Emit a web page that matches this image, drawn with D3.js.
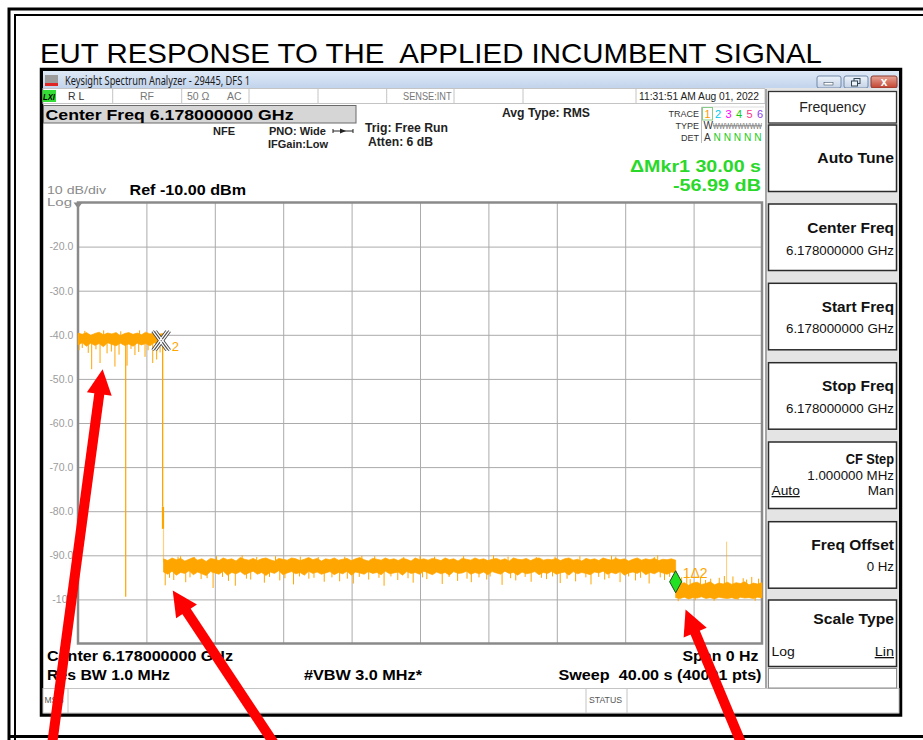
<!DOCTYPE html>
<html>
<head>
<meta charset="utf-8">
<script src="https://cdn.jsdelivr.net/npm/d3@7"></script>
<style>
  body { margin: 0; background: #fff; }
  svg { display: block; }
  text { font-family: "Liberation Sans", Arial, sans-serif; }
</style>
</head>
<body>
<div id="chart"></div>
<script>
// ---- data ----
// y axis (dBm), 10 dB/div, ref -10 dBm
const yTicks = [-20, -30, -40, -50, -60, -70, -80, -90, -100];
const yTickLabels = ["-20.0", "-30.0", "-40.0", "-50.0", "-60.0", "-70.0", "-80.0", "-90.0", "-100"];
// x axis is time, 0 Hz span, 40 s sweep
const xGridTimes = [4, 8, 12, 16, 20, 24, 28, 32, 36];

// trace segments: start/end time (s) and band top / bottom (dBm)
const segStarts = [0, 5.0, 34.95];
const segEnds = [4.95, 34.95, 40];

const hi1 = [-39.6,-39.9,-39.5,-40.1,-39.7,-39.4,-40.0,-39.6,-39.8,-39.5,-40.2,-39.7,-39.5,-39.9,-39.6,-40.0,-39.4,-39.8,-39.6,-39.9,-39.7];
const lo1 = [-42.3,-41.8,-42.6,-41.9,-42.4,-42.0,-42.7,-41.8,-42.2,-42.5,-41.9,-42.4,-42.1,-42.6,-41.9,-42.3,-42.0,-42.5,-41.8,-42.2,-42.0];

const hi2 = [
  -90.8,-91.2,-90.6,-91.0,-90.7,-91.3,-90.9,-90.5,-91.1,-90.8,
  -91.4,-90.7,-90.9,-91.2,-90.6,-91.0,-90.8,-91.3,-90.5,-90.9,
  -91.1,-90.7,-91.2,-90.8,-90.6,-91.0,-91.3,-90.7,-90.9,-91.1,
  -90.6,-90.8,-91.2,-90.9,-90.5,-91.0,-90.7,-91.3,-90.8,-91.0,
  -90.6,-91.1,-90.9,-90.7,-91.2,-90.8,-90.5,-91.0,-91.3,-90.7,
  -90.9,-91.1,-90.6,-91.0,-90.8,-91.2,-90.7,-90.9,-91.3,-90.6,
  -91.0,-90.8,-91.1,-90.7,-90.9,-91.2,-90.6,-91.0,-90.8,-91.3,
  -90.7,-90.9,-91.1,-90.6,-91.0,-90.8,-91.2,-90.9,-90.7,-91.1,
  -90.8,-91.3,-90.6,-90.9,-91.0,-90.7,-91.2,-90.8,-90.6,-91.1,
  -90.9,-91.0,-90.7,-91.2,-90.8,-90.6,-91.1,-90.9,-91.3,-90.7,
  -91.0,-90.8,-91.2,-90.6,-90.9,-91.1,-90.7,-91.0,-90.8,-91.3,
  -90.9,-90.6,-91.1,-90.8,-91.0,-90.7,-91.2,-90.9,-91.0,-90.8,
  -91.1];
const lo2 = [
  -93.8,-94.3,-93.6,-94.5,-93.9,-94.1,-93.5,-94.4,-93.8,-94.2,
  -94.6,-93.7,-94.0,-94.3,-93.6,-94.5,-93.9,-94.2,-93.7,-94.4,
  -94.0,-93.6,-94.3,-93.9,-94.6,-93.8,-94.1,-93.5,-94.4,-94.0,
  -93.7,-94.2,-93.9,-94.5,-93.6,-94.1,-93.8,-94.3,-94.0,-93.7,
  -94.4,-93.9,-94.2,-93.6,-94.5,-93.8,-94.0,-94.3,-93.7,-94.1,
  -93.9,-94.4,-93.6,-94.2,-94.0,-93.8,-94.5,-93.7,-94.1,-93.9,
  -94.3,-93.6,-94.0,-94.4,-93.8,-94.2,-93.9,-94.5,-93.7,-94.1,
  -94.0,-93.6,-94.3,-93.9,-94.2,-93.8,-94.4,-93.7,-94.0,-94.3,
  -93.6,-94.1,-93.9,-94.5,-93.8,-94.2,-94.0,-93.7,-94.4,-93.9,
  -94.1,-93.6,-94.3,-94.0,-93.8,-94.5,-93.7,-94.2,-93.9,-94.1,
  -94.4,-93.8,-94.0,-93.6,-94.3,-93.9,-94.2,-93.7,-94.5,-94.0,
  -93.8,-94.1,-93.6,-94.4,-93.9,-94.2,-93.7,-94.0,-94.3,-93.8,
  -94.0];

const hi3 = [-96.0,-96.5,-96.2,-96.8,-96.3,-96.1,-96.6,-96.4,-96.0,-96.7,-96.3,-96.5,-96.1,-96.6,-96.2,-96.4,-96.0,-96.7,-96.3,-96.5,-96.2];
const lo3 = [-99.6,-99.8,-99.5,-99.9,-99.6,-99.7,-99.4,-99.8,-99.6,-99.9,-99.5,-99.7,-99.8,-99.6,-99.9,-99.5,-99.7,-99.6,-99.8,-99.5,-99.7];

// single-sample spikes [time s, dBm]
const spikes = [
  // incumbent signal
  [0.06,-43.5],[0.80,-47.8],[1.29,-46.4],[1.70,-44.2],[2.16,-47.2],[2.87,-47.0],[3.33,-44.6],[3.92,-45.0],[4.37,-46.4],[4.60,-45.6],
  [0.25,-43.0],[0.6,-44.1],[1.05,-43.3],[1.95,-43.8],[2.4,-44.5],[3.1,-43.2],[3.55,-43.9],[4.1,-43.5],[4.8,-44.0],
  [0.4,-39.1],[1.5,-39.0],[2.5,-39.2],[3.6,-39.0],[4.4,-39.1],
  // noise floor while transmitting stops
  [5.1,-96.8],[5.6,-95.6],[6.3,-96.1],[7.2,-95.4],[7.9,-97.4],[8.8,-95.8],[9.2,-96.9],[10.1,-95.5],[10.9,-96.2],[11.8,-95.7],
  [12.6,-96.6],[13.5,-95.3],[14.4,-96.0],[15.3,-95.9],[16.1,-96.4],[17.0,-95.5],[17.9,-96.9],[18.7,-95.6],[19.6,-96.2],[20.4,-95.4],
  [21.3,-96.5],[22.2,-95.8],[23.0,-96.1],[23.9,-95.5],[24.8,-96.7],[25.6,-95.7],[26.5,-96.0],[27.4,-95.4],[28.2,-96.3],[29.1,-95.9],
  [30.0,-96.6],[30.8,-95.5],[31.7,-96.1],[32.6,-95.7],[33.4,-96.4],[34.3,-95.6],
  [5.35,-95.1],[6.55,-95.0],[7.55,-95.2],[8.45,-94.9],[9.85,-95.3],[11.2,-94.9],[12.1,-95.2],[12.95,-94.8],[13.8,-95.1],
  [14.85,-95.0],[15.75,-95.3],[16.45,-94.9],[17.6,-95.1],[18.3,-94.8],[19.3,-95.2],[20.15,-95.0],[21.7,-94.9],[22.75,-95.3],
  [23.45,-95.0],[24.1,-94.8],[25.3,-95.2],[26.15,-94.9],[27.1,-95.1],[27.75,-94.8],[28.6,-95.3],[29.7,-95.0],[30.45,-94.9],
  [31.05,-95.2],[32.2,-94.8],[32.9,-95.1],[34.05,-95.0],[34.6,-94.9],
  [6.0,-90.2],[9.6,-90.0],[13.0,-90.3],[16.6,-90.1],[20.0,-90.2],[24.3,-90.0],[27.9,-90.3],[31.2,-90.1],[33.9,-90.0],
  [5.85,-90.3],[6.8,-90.4],[8.1,-90.2],[10.45,-90.4],[11.55,-90.2],[14.05,-90.4],[15.6,-90.3],[17.35,-90.2],[19.05,-90.4],
  [20.85,-90.3],[22.55,-90.2],[25.15,-90.3],[26.8,-90.4],[29.35,-90.2],[31.45,-90.3],[33.7,-90.4],
  // after the channel move
  [35.3,-95.0],[35.8,-95.4],[36.4,-94.9],[37.0,-95.3],[37.5,-95.1],[38.3,-94.8],[38.9,-95.2],[39.4,-94.9],[39.8,-95.3],
  [35.6,-94.6],[36.7,-95.6],[37.8,-94.7],[39.1,-95.5],
  [35.1,-100.4],[36.1,-100.2],[37.2,-100.3],[38.6,-100.1],[39.6,-100.3]
];
const bigDrop = [2.79, -99.4];      // deep dip inside the incumbent signal
const faintSpike = [37.93, -86.9];  // faint spike after the marker
// fall of the signal [time, from, to]
const fall = [[4.95, -41.0, -79.0], [4.97, -79.0, -84.0]];
const fallFaint = [[5.0, -84.0, -91.5]];

// markers: 1 (delta) and 2 (reference)
const markerTimes = [34.95, 4.95];
const markerLevels = [-96.0, -41.3];

// annotation arrows (tip and tail in time / dBm)
const arrowTipT = [1.44, 5.54, 35.53];
const arrowTipL = [-47.8, -98.0, -102.3];
const arrowTailT = [-1.52, 11.52, 38.83];
const arrowTailL = [-133, -133, -133];

// ---- drawing ----
const W = 923, H = 740;
const svg = d3.select("#chart").append("svg").attr("width", W).attr("height", H);
svg.append("rect").attr("width", W).attr("height", H).attr("fill", "#fff");

function label(g, x, y, s, o = {}) {
  const t = g.append("text").attr("x", x).attr("y", y).text(s)
    .style("font-size", (o.size || 12) + "px")
    .style("font-weight", o.bold ? "bold" : "normal")
    .attr("fill", o.color || "#000")
    .attr("text-anchor", o.anchor || "start");
  if (o.family) t.style("font-family", o.family);
  if (o.italic) t.style("font-style", "italic");
  if (o.len) t.attr("textLength", o.len).attr("lengthAdjust", "spacingAndGlyphs");
  if (o.deco) t.style("text-decoration", o.deco);
  if (o.pre) t.attr("xml:space", "preserve").style("white-space", "pre");
  return t;
}

const defs = svg.append("defs");
const gTitle = defs.append("linearGradient").attr("id", "tbar").attr("x1", 0).attr("y1", 0).attr("x2", 0).attr("y2", 1);
gTitle.append("stop").attr("offset", "0").attr("stop-color", "#dfe9f6");
gTitle.append("stop").attr("offset", "1").attr("stop-color", "#c2d4ec");
const gBtn = defs.append("linearGradient").attr("id", "btn").attr("x1", 0).attr("y1", 0).attr("x2", 0).attr("y2", 1);
gBtn.append("stop").attr("offset", "0").attr("stop-color", "#eef3fa");
gBtn.append("stop").attr("offset", "1").attr("stop-color", "#c5d3e6");
const gClose = defs.append("linearGradient").attr("id", "cls").attr("x1", 0).attr("y1", 0).attr("x2", 0).attr("y2", 1);
gClose.append("stop").attr("offset", "0").attr("stop-color", "#e8a596");
gClose.append("stop").attr("offset", "1").attr("stop-color", "#c2422f");

// outer document frame
svg.append("path").attr("d", "M9 745 V9 H930").attr("fill", "none").attr("stroke", "#000").attr("stroke-width", 3);
svg.append("path").attr("d", "M15 745 V15 H930").attr("fill", "none").attr("stroke", "#000").attr("stroke-width", 2);
svg.append("line").attr("x1", 8).attr("x2", W).attr("y1", 736.5).attr("y2", 736.5).attr("stroke", "#000").attr("stroke-width", 3);

label(svg, 40, 63, "EUT RESPONSE TO THE  APPLIED INCUMBENT SIGNAL", { size: 28, len: 782, pre: true });

// analyzer window
svg.append("rect").attr("x", 41.5).attr("y", 69.5).attr("width", 859).attr("height", 645.5)
  .attr("fill", "#fff").attr("stroke", "#000").attr("stroke-width", 3.5);
svg.append("rect").attr("x", 43).attr("y", 71).attr("width", 856).attr("height", 17).attr("fill", "url(#tbar)");
svg.append("rect").attr("x", 45).attr("y", 75).attr("width", 13).attr("height", 8).attr("fill", "#9c9c9c");
svg.append("rect").attr("x", 45).attr("y", 83).attr("width", 13).attr("height", 3).attr("fill", "#e02525");
label(svg, 65, 84.5, "Keysight Spectrum Analyzer - 29445, DFS 1", { size: 12, family: "'Noto Sans', sans-serif", color: "#1a1a1a", len: 185 });

// window buttons
svg.append("rect").attr("x", 817).attr("y", 76).attr("width", 24).attr("height", 12).attr("rx", 2)
  .attr("fill", "url(#btn)").attr("stroke", "#7088a8");
svg.append("rect").attr("x", 824).attr("y", 82.5).attr("width", 9).attr("height", 2.5).attr("fill", "#fff").attr("stroke", "#456").attr("stroke-width", 0.6);
svg.append("rect").attr("x", 844).attr("y", 76).attr("width", 24).attr("height", 12).attr("rx", 2)
  .attr("fill", "url(#btn)").attr("stroke", "#7088a8");
svg.append("rect").attr("x", 854).attr("y", 78.5).attr("width", 6).attr("height", 5).attr("fill", "none").attr("stroke", "#345").attr("stroke-width", 1);
svg.append("rect").attr("x", 851.5).attr("y", 81).attr("width", 6).attr("height", 5).attr("fill", "#eef3fa").attr("stroke", "#345").attr("stroke-width", 1);
svg.append("rect").attr("x", 871).attr("y", 76).attr("width", 26).attr("height", 12).attr("rx", 2)
  .attr("fill", "url(#cls)").attr("stroke", "#8a3a30");
label(svg, 884, 86, "x", { size: 12, bold: true, color: "#fff", anchor: "middle" });

// status row
svg.append("rect").attr("x", 43).attr("y", 88.5).attr("width", 722).attr("height", 15)
  .attr("fill", "#fff").attr("stroke", "#c4c4c4");
[112.7, 181.7, 249, 318, 386.7, 454, 523, 636].forEach(xd => {
  svg.append("line").attr("x1", xd).attr("x2", xd).attr("y1", 88.5).attr("y2", 103.5).attr("stroke", "#c4c4c4");
});
svg.append("rect").attr("x", 42.5).attr("y", 90).attr("width", 13.5).attr("height", 12).attr("fill", "#33dd33");
label(svg, 43, 99.5, "LXI", { size: 9, bold: true, italic: true, len: 12 });
label(svg, 68, 100, "R L", { size: 10.5, color: "#333" });
label(svg, 140, 100, "RF", { size: 10.5, color: "#777" });
label(svg, 187, 100, "50 Ω", { size: 10.5, color: "#777" });
label(svg, 227, 100, "AC", { size: 10.5, color: "#777" });
label(svg, 403, 100, "SENSE:INT", { size: 10.5, color: "#777", len: 48.5 });
label(svg, 759, 100, "11:31:51 AM Aug 01, 2022", { size: 10.5, color: "#222", anchor: "end", len: 120 });

// header texts
svg.append("rect").attr("x", 43.5).attr("y", 105.5).attr("width", 312.5).attr("height", 17.5)
  .attr("fill", "#d6d6d6").attr("stroke", "#6a6a6a");
label(svg, 45.5, 120, "Center Freq 6.178000000 GHz", { size: 15, bold: true, len: 248 });
label(svg, 213, 135, "NFE", { size: 11, bold: true, color: "#222" });
label(svg, 269, 135, "PNO: Wide", { size: 11.5, bold: true, color: "#222", len: 57 });
label(svg, 268, 148, "IFGain:Low", { size: 11.5, bold: true, color: "#222", len: 60 });
const pno = svg.append("g").attr("stroke", "#222").attr("stroke-width", 1).attr("fill", "#222");
pno.append("line").attr("x1", 333).attr("x2", 353).attr("y1", 131).attr("y2", 131);
pno.append("line").attr("x1", 333).attr("x2", 333).attr("y1", 129).attr("y2", 133);
pno.append("line").attr("x1", 353).attr("x2", 353).attr("y1", 129).attr("y2", 133);
pno.append("path").attr("d", "M340 128.5 L346 131 L340 133.5 Z").attr("stroke", "none");
label(svg, 365, 131.5, "Trig: Free Run", { size: 12.5, bold: true, color: "#222", len: 83 });
label(svg, 368, 146, "Atten: 6 dB", { size: 12.5, bold: true, color: "#222", len: 65 });
label(svg, 502, 116.5, "Avg Type: RMS", { size: 12.5, bold: true, color: "#222", len: 88 });

// trace table
label(svg, 699, 116.5, "TRACE", { size: 9, color: "#333", anchor: "end" });
label(svg, 699, 128.5, "TYPE", { size: 9, color: "#333", anchor: "end" });
label(svg, 699, 140.5, "DET", { size: 9, color: "#333", anchor: "end" });
svg.append("line").attr("x1", 701.5).attr("x2", 701.5).attr("y1", 107).attr("y2", 143).attr("stroke", "#bbb");
svg.append("line").attr("x1", 701.5).attr("x2", 764).attr("y1", 107).attr("y2", 107).attr("stroke", "#ddd");
svg.append("rect").attr("x", 702.5).attr("y", 107.5).attr("width", 10).attr("height", 12.5).attr("fill", "#fff").attr("stroke", "#8c8");
const traceCols = ["#ff9900", "#00c8f0", "#ff00ff", "#11cc11", "#ff3388", "#8a3cf0"];
traceCols.forEach((c, i) => label(svg, 704.5 + i * 10.5, 117.5, String(i + 1), { size: 11, color: c }));
label(svg, 703.5, 128.5, "W", { size: 10, color: "#333" });
label(svg, 713, 128.5, "WWWWWWWW", { size: 8.5, color: "#777", len: 49, deco: "line-through" });
label(svg, 704, 140.5, "A", { size: 10, color: "#333" });
label(svg, 713.5, 140.5, "N N N N N", { size: 10, color: "#22cc22", len: 48 });

// delta marker readout
label(svg, 761, 172, "ΔMkr1 30.00 s", { size: 17, bold: true, color: "#29d829", anchor: "end", len: 131 });
label(svg, 761, 191, "-56.99 dB", { size: 17, bold: true, color: "#29d829", anchor: "end", len: 88 });

label(svg, 47, 193.5, "10 dB/div", { size: 11.5, color: "#8a8a8a", len: 59 });
label(svg, 129.5, 195, "Ref -10.00 dBm", { size: 15.5, bold: true, len: 116.5 });
label(svg, 47, 205.5, "Log", { size: 11.5, color: "#8a8a8a", len: 25 });

// ---- plot ----
const x = d3.scaleLinear().domain([0, 40]).range([78, 762]);
const y = d3.scaleLinear().domain([-10, -110]).range([202.5, 643.5]);

const gy = svg.append("g").attr("transform", `translate(${x(0)},0)`)
  .call(d3.axisLeft(y).tickValues(yTicks).tickSize(-(x(40) - x(0))).tickPadding(4.7)
    .tickFormat((d, i) => yTickLabels[i]));
gy.select(".domain").remove();
gy.selectAll("line").attr("stroke", "#ababab");
gy.selectAll("text").attr("fill", "#9c9c9c").style("font-size", "10.5px")
  .style("font-family", "'Liberation Sans', Arial, sans-serif");

const gx = svg.append("g").attr("transform", `translate(0,${y(-110)})`)
  .call(d3.axisBottom(x).tickValues(xGridTimes).tickSize(-(y(-110) - y(-10))).tickFormat(""));
gx.select(".domain").remove();
gx.selectAll("line").attr("stroke", "#ababab");

svg.append("rect").attr("x", x(0)).attr("y", y(-10)).attr("width", x(40) - x(0)).attr("height", y(-110) - y(-10))
  .attr("fill", "none").attr("stroke", "#8a8a8a").attr("stroke-width", 2.5);
svg.append("path").attr("d", `M${x(0) - 4.5} ${y(-10)} L${x(0) + 4.5} ${y(-10)} L${x(0)} ${y(-10) + 6} Z`).attr("fill", "#8a8a8a");

const orange = "#ffa500";
const trace = svg.append("g");

function baseAt(t) {
  if (t < segEnds[0]) return -41.0;
  if (t < segEnds[1]) return -92.5;
  return -98.0;
}
// spikes behind the band
trace.selectAll(".spike").data(spikes).enter().append("line").attr("class", "spike")
  .attr("x1", d => x(d[0])).attr("x2", d => x(d[0]))
  .attr("y1", d => y(baseAt(d[0]))).attr("y2", d => y(d[1]))
  .attr("stroke", orange).attr("stroke-width", 1);
trace.append("line").attr("x1", x(bigDrop[0])).attr("x2", x(bigDrop[0]))
  .attr("y1", y(baseAt(bigDrop[0]))).attr("y2", y(bigDrop[1])).attr("stroke", orange).attr("stroke-width", 1.2);
trace.append("line").attr("x1", x(faintSpike[0])).attr("x2", x(faintSpike[0]))
  .attr("y1", y(baseAt(faintSpike[0]))).attr("y2", y(faintSpike[1])).attr("stroke", orange)
  .attr("stroke-width", 1).attr("opacity", 0.55);

// noise band
const area = d3.area().x(d => x(d.t)).y0(d => y(d.lo)).y1(d => y(d.hi));
[[hi1, lo1], [hi2, lo2], [hi3, lo3]].forEach(([hi, lo], s) => {
  const ti = d3.scaleLinear().domain([0, hi.length - 1]).range([segStarts[s], segEnds[s]]);
  const rows = hi.map((v, i) => ({ t: ti(i), hi: v, lo: lo[i] }));
  trace.append("path").datum(rows).attr("d", area)
    .attr("fill", orange).attr("stroke", orange).attr("stroke-width", 0.7).attr("stroke-linejoin", "bevel");
});

fall.forEach((d, i) => {
  trace.append("line").attr("x1", x(d[0])).attr("x2", x(d[0])).attr("y1", y(d[1])).attr("y2", y(d[2]))
    .attr("stroke", orange).attr("stroke-width", i === 0 ? 1.3 : 2.2);
});
fallFaint.forEach(d => {
  trace.append("line").attr("x1", x(d[0])).attr("x2", x(d[0])).attr("y1", y(d[1])).attr("y2", y(d[2]))
    .attr("stroke", orange).attr("stroke-width", 1.2).attr("opacity", 0.5);
});

// marker 2: hollow X
const m2x = x(markerTimes[1]), m2y = y(markerLevels[1]);
const xm = svg.append("g");
const xStrokes = [[-7, -9.5, 7, 9.5], [7, -9.5, -7, 9.5], [-4, -9.5, 10, 9.5], [10, -9.5, -4, 9.5]];
xStrokes.forEach(l => {
  xm.append("line").attr("x1", m2x + l[0] - 3).attr("y1", m2y + l[1]).attr("x2", m2x + l[2] - 3).attr("y2", m2y + l[3])
    .attr("stroke", "#444").attr("stroke-width", 3);
});
xStrokes.forEach(l => {
  xm.append("line").attr("x1", m2x + l[0] - 3).attr("y1", m2y + l[1]).attr("x2", m2x + l[2] - 3).attr("y2", m2y + l[3])
    .attr("stroke", "#fff").attr("stroke-width", 1.3);
});
label(svg, m2x + 9, m2y + 10, "2", { size: 13, color: orange });

// marker 1: green diamond
const m1x = x(markerTimes[0]), m1y = y(markerLevels[0]);
svg.append("path").attr("d", `M${m1x} ${m1y - 11} L${m1x + 6} ${m1y} L${m1x} ${m1y + 11} L${m1x - 6} ${m1y} Z`)
  .attr("fill", "#22e022").attr("stroke", "#1d4d1d").attr("stroke-width", 1);
label(svg, m1x + 7, m1y - 4, "1Δ2", { size: 14.5, color: orange, len: 25 });

// bottom annotations
label(svg, 47, 661, "Center 6.178000000 GHz", { size: 14.5, bold: true, len: 186 });
label(svg, 47, 679.5, "Res BW 1.0 MHz", { size: 14.5, bold: true, len: 123 });
label(svg, 304, 679.5, "#VBW 3.0 MHz*", { size: 14.5, bold: true, len: 118 });
label(svg, 758.5, 661, "Span 0 Hz", { size: 14.5, bold: true, anchor: "end", len: 76 });
label(svg, 761.5, 680, "Sweep  40.00 s (40001 pts)", { size: 14.5, bold: true, anchor: "end", len: 203, pre: true });

// message / status bar
svg.append("rect").attr("x", 43).attr("y", 688.5).attr("width", 856).attr("height", 24.5).attr("fill", "#fff").attr("stroke", "#c4c4c4");
[68, 586, 627].forEach(xd => svg.append("line").attr("x1", xd).attr("x2", xd).attr("y1", 689).attr("y2", 713).attr("stroke", "#c4c4c4"));
label(svg, 44.5, 703, "MSG", { size: 8.5, color: "#555" });
label(svg, 589, 703, "STATUS", { size: 8.5, color: "#555", len: 33 });

// ---- softkey panel ----
svg.append("rect").attr("x", 765).attr("y", 88).attr("width", 134).attr("height", 600).attr("fill", "#e4e4e4");
svg.append("line").attr("x1", 766).attr("x2", 766).attr("y1", 89).attr("y2", 688).attr("stroke", "#a6a6a6").attr("stroke-width", 2);
svg.append("rect").attr("x", 768.5).attr("y", 91.5).attr("width", 128).attr("height", 31.5).attr("fill", "#fff").attr("stroke", "#333").attr("stroke-width", 1.3);
label(svg, 832.5, 112, "Frequency", { size: 14, color: "#222", anchor: "middle", len: 66.5 });

const keys = [
  { top: 125, title: "Auto Tune", tl: 76.7, ty: 38 },
  { top: 204, title: "Center Freq", tl: 86.7, ty: 29, val: "6.178000000 GHz", vl: 108, vy: 51 },
  { top: 283.3, title: "Start Freq", tl: 72.3, ty: 28.5, val: "6.178000000 GHz", vl: 108, vy: 50 },
  { top: 362.7, title: "Stop Freq", tl: 72, ty: 28.5, val: "6.178000000 GHz", vl: 108, vy: 50 },
  { top: 442, title: "CF Step", tl: 48.3, ty: 21.5, val: "1.000000 MHz", vl: 86.7, vy: 38, left: "Auto", ll: 28.3, right: "Man", rl: 26.3, ly: 53, ul: "left" },
  { top: 521.7, title: "Freq Offset", tl: 82.7, ty: 28.5, val: "0 Hz", vl: 27.3, vy: 49 },
  { top: 600, title: "Scale Type", tl: 80.7, ty: 23.5, left: "Log", ll: 23.3, right: "Lin", rl: 19.3, ly: 56, ul: "right" }
];
keys.forEach(k => {
  svg.append("rect").attr("x", 768.5).attr("y", k.top).attr("width", 128).attr("height", 66.5)
    .attr("fill", "#fff").attr("stroke", "#2a2a2a").attr("stroke-width", 1.5);
  label(svg, 894, k.top + k.ty, k.title, { size: 15, bold: true, color: "#111", anchor: "end", len: k.tl });
  if (k.val) label(svg, 894, k.top + k.vy, k.val, { size: 12.5, color: "#111", anchor: "end", len: k.vl });
  if (k.left) {
    label(svg, 771.5, k.top + k.ly, k.left, { size: 13, color: "#111", len: k.ll, deco: k.ul === "left" ? "underline" : null });
    label(svg, 894, k.top + k.ly, k.right, { size: 13, color: "#111", anchor: "end", len: k.rl, deco: k.ul === "right" ? "underline" : null });
  }
});
svg.append("rect").attr("x", 768.5).attr("y", 668.5).attr("width", 128).attr("height", 19.5)
  .attr("fill", "#fff").attr("stroke", "#8a8a8a");

// ---- red annotation arrows ----
const arrows = svg.append("g");
arrowTipT.forEach((t, i) => {
  const tx = x(t), ty = y(arrowTipL[i]);
  const bx = x(arrowTailT[i]), by = y(arrowTailL[i]);
  const len = Math.hypot(tx - bx, ty - by);
  const ux = (tx - bx) / len, uy = (ty - by) / len;
  const headL = 25, headW = 25;
  const hx = tx - ux * headL, hy = ty - uy * headL;
  arrows.append("line").attr("x1", bx).attr("y1", by).attr("x2", hx + ux * 2).attr("y2", hy + uy * 2)
    .attr("stroke", "#ff0000").attr("stroke-width", 10);
  arrows.append("path")
    .attr("d", `M${tx} ${ty} L${hx - uy * headW / 2} ${hy + ux * headW / 2} L${hx + uy * headW / 2} ${hy - ux * headW / 2} Z`)
    .attr("fill", "#ff0000");
});
</script>
</body>
</html>
